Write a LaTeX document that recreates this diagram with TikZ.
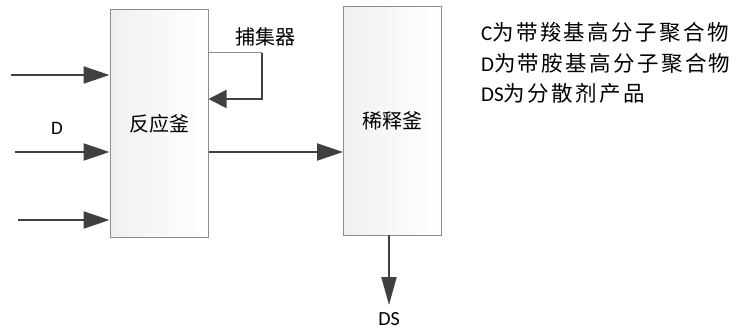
\documentclass[tikz,border=0pt]{standalone}
\usepackage{fontspec}
\setmainfont{Carlito}
\newfontfamily\cjk{Noto Sans CJK SC}
\newfontfamily\cjkwide{Noto Sans CJK SC}[LetterSpace=11]
\usetikzlibrary{arrows.meta}
\definecolor{arr}{HTML}{404040}
\definecolor{bord}{HTML}{8C8C8C}
\begin{document}
\begin{tikzpicture}[x=1pt,y=-1pt,
  tank/.style={draw=bord,line width=1pt,left color=gray!12,right color=white,minimum width=98pt,inner sep=0pt},
  flow/.style={draw=arr,line width=2pt,-{Triangle[length=26pt,width=17pt]}},
  smallflow/.style={draw=arr,line width=2pt,-{Triangle[length=18pt,width=18pt]}},
  lbl/.style={font=\fontsize{20}{24}\selectfont\cjk,inner sep=0pt},
  leg/.style={anchor=west,inner sep=0pt,font=\fontsize{21}{24}\selectfont}]
\useasboundingbox (0,0) rectangle (739,329);
\node[tank,minimum height=227pt] (R) at (159,123.5) {};
\node[lbl] at (R.center) {反应釜};
\node[tank,minimum height=228pt] (X) at (392.5,121) {};
\node[lbl] at (X.center) {稀释釜};
% inlets
\coordinate (i1) at (11,75);
\coordinate (i2) at (15,152);
\coordinate (i3) at (18,220);
\draw[flow] (i1) -- (i1 -| R.west);
\draw[flow] (i2) -- (i2 -| R.west);
\draw[flow] (i3) -- (i3 -| R.west);
\node[font=\fontsize{19}{22}\selectfont,inner sep=0pt] (Dl) at (57,128) {D};
% catcher loop
\coordinate (c1) at (262,53);
\coordinate (c2) at (262,99);
\draw[draw=bord,line width=1pt] (c1 -| R.east) -- (c1);
\draw[smallflow] (c1) -- (c2) -- (c2 -| R.east);
\node[lbl] (cap) at (265,37) {捕集器};
% reactor to diluter
\coordinate (m) at (208,152);
\draw[flow] (m -| R.east) -- (m -| X.west);
% outlet
\coordinate (o) at (389,305);
\draw[flow,-{Triangle[length=28pt,width=15pt]}] (389,235) -- (o);
\node[font=\fontsize{20}{24}\selectfont,inner sep=0pt] (DS) at (389,319) {DS};
% legend
\node[leg] (L1) at (481,32) {C{\fontsize{21.5}{26}\cjkwide 为带羧基高分子聚合物}};
\node[leg] (L2) at (481,63) {D{\fontsize{21.5}{26}\cjkwide 为带胺基高分子聚合物}};
\node[leg] (L3) at (481,93) {DS{\fontsize{21.5}{26}\cjkwide 为分散剂产品}};
\end{tikzpicture}
\end{document}
